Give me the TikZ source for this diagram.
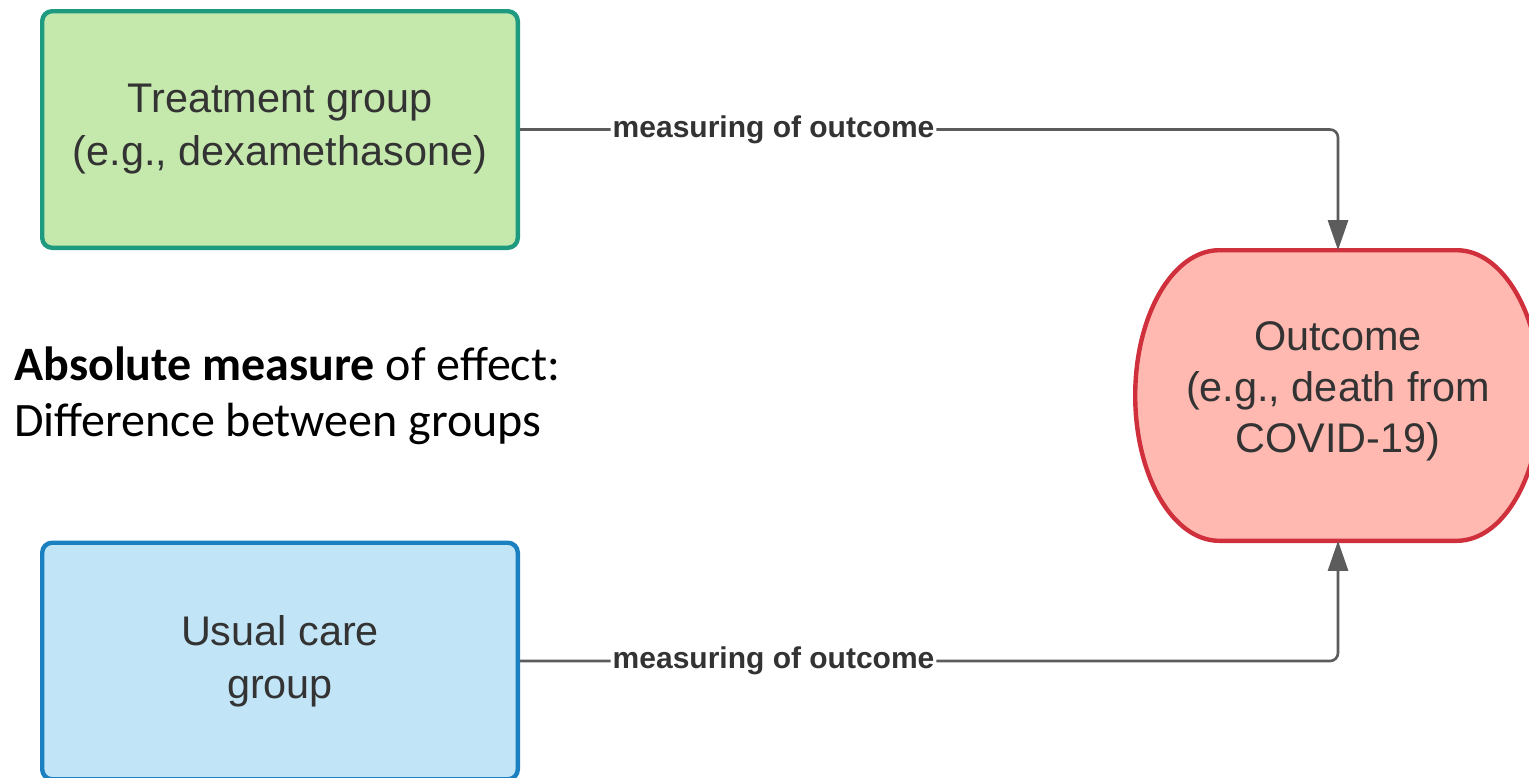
\documentclass[tikz,border=0pt]{standalone}
\usepackage{fontspec}
\setmainfont{Liberation Sans}
\newfontfamily\calibrifont{Carlito}
\usetikzlibrary{arrows.meta}
\definecolor{txt}{HTML}{333333}
\definecolor{greenfill}{HTML}{C5E8AD}
\definecolor{greenline}{HTML}{1E9A80}
\definecolor{bluefill}{HTML}{C1E4F6}
\definecolor{blueline}{HTML}{1A80C0}
\definecolor{redfill}{HTML}{FFB9B1}
\definecolor{redline}{HTML}{CF303C}
\definecolor{conncol}{HTML}{5C5C5C}
\begin{document}
\begin{tikzpicture}[x=0.5pt,y=-0.5pt,
  box/.style={draw, line width=2.2pt, rounded corners=5pt, minimum width=237.8pt, minimum height=118.3pt, align=center, text=txt, font=\fontsize{20.7}{26.5}\selectfont},
  conn/.style={draw=conncol, line width=1.3pt, rounded corners=4pt, -{Triangle[length=15pt,width=10pt]}},
  lbl/.style={fill=white, text=txt, font=\fontsize{15}{18}\selectfont\bfseries, inner sep=1pt}]
\useasboundingbox (0,0) rectangle (1529,777);
\clip (0,0) rectangle (1529,777);
\fill[white] (0,0) rectangle (1529,777);
\node[box, fill=greenfill, draw=greenline] (treat) at (280,129.5) {Treatment group\\(e.g., dexamethasone)};
\node[box, fill=bluefill, draw=blueline] (usual) at (280,661) {Usual care\\group};
\node[minimum width=202.8pt, minimum height=145.3pt, inner sep=0pt, outer sep=0pt] (outcome) at (1338,395.5) {};
\draw[fill=redfill, draw=redline, line width=2.2pt]
  ([xshift=42pt]outcome.north west) -- ([xshift=-42pt]outcome.north east)
  arc[start angle=90, end angle=-90, x radius=42pt, y radius=72.65pt]
  -- ([xshift=42pt]outcome.south west)
  arc[start angle=270, end angle=90, x radius=42pt, y radius=72.65pt] -- cycle;
\node[text=txt, align=center, font=\fontsize{20.7}{25.5}\selectfont] (outtext) at (1338,391) {Outcome\\(e.g., death from\\COVID-19)};
\draw[conn] (treat.east) -| node[lbl, pos=0.155] (lbltop) {measuring of outcome} (outcome.north);
\draw[conn] (usual.east) -| node[lbl, pos=0.155] (lblbot) {measuring of outcome} (outcome.south);
\node[anchor=west, align=left, inner sep=0pt, font=\calibrifont\fontsize{24}{28}\selectfont] (absm) at (14,396) {\textbf{Absolute measure} of effect:\\Difference between groups};
\end{tikzpicture}
\end{document}
